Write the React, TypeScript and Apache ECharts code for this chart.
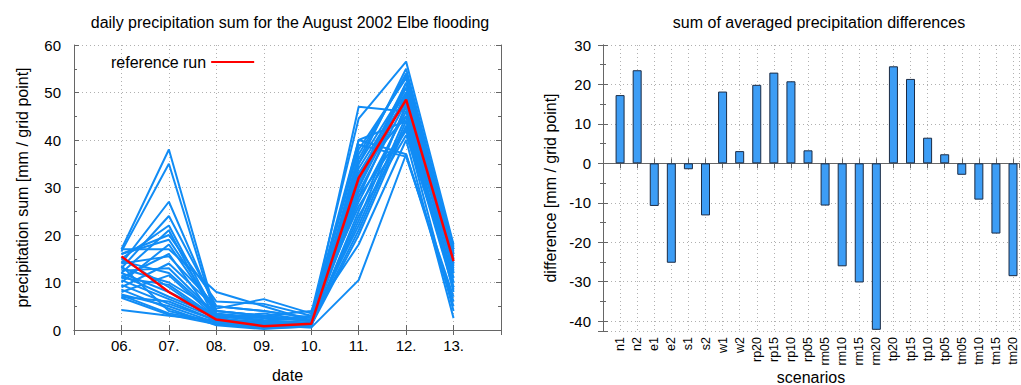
import React, { useEffect, useRef } from "react";
import * as echarts from "echarts";

const dayLabels = ["06.", "07.", "08.", "09.", "10.", "11.", "12.", "13."];

const referenceRun = [15.5, 8, 2.2, 0.8, 1.3, 32, 48.5, 14.5];

const members: number[][] = [
  [17, 38, 3, 2, 1.5, 30, 52, 16],
  [16.5, 35, 2.5, 1.5, 1, 28, 50, 12],
  [14, 27, 4, 3, 2, 35, 55, 17],
  [13, 24, 5, 4, 2.5, 38, 53, 14],
  [15, 22, 3, 2, 1.5, 33, 49, 10],
  [12, 21, 2, 1, 1, 25, 47, 8],
  [16, 20, 6, 5.5, 3, 40, 44, 15],
  [10, 18, 3.5, 2.5, 2, 22, 45, 11],
  [17, 17, 8, 5, 2, 47, 46, 13],
  [11, 16, 2, 1.5, 1, 20, 43, 9],
  [9, 14, 4.5, 6.5, 3.5, 44.5, 56.5, 18],
  [14.5, 12, 3, 2, 1.5, 31, 51, 17],
  [8, 11.5, 2.5, 3.5, 2, 39, 36.5, 7],
  [7, 6, 2, 1, 1, 40, 37, 5],
  [13, 10, 4, 3, 4, 26, 42, 4],
  [12, 8, 3, 2, 3, 18, 40, 2.5],
  [4.2, 3, 2, 1, 0.5, 10.5, 37, 6],
  [7.5, 5, 1.5, 0.5, 1, 36, 54, 16],
  [8.5, 4.5, 1, 0.2, 0.8, 34, 50, 14],
  [10.5, 6.5, 2.5, 1.2, 1.5, 29, 48, 12],
  [11.5, 7, 3, 2.5, 2, 27, 46, 15],
  [13.5, 4, 1.5, 0.5, 1, 24, 41, 11],
  [9.5, 5.5, 2, 1, 1.2, 21, 44, 9],
  [7.3, 3.5, 1.8, 0.8, 0.6, 37, 53.5, 13.5],
  [15, 9, 2.2, 1.7, 1.4, 32, 52, 17.5],
  [12.5, 13, 3.2, 2.8, 2.2, 30, 49.5, 16.5],
  [16, 19, 4, 3, 1.8, 35, 51, 15.5],
  [6.8, 3.2, 1.2, 0.4, 0.7, 33, 45, 10],
  [14, 15.5, 5, 4, 2.6, 28, 42.5, 8.5],
  [11, 9.5, 2.6, 1.3, 1.1, 23, 47.5, 12.5],
];

const scenarios = [
  "n1", "n2", "e1", "e2", "s1", "s2", "w1", "w2", "rp20", "rp15", "rp10", "rp05",
  "rm05", "rm10", "rm15", "rm20", "tp20", "tp15", "tp10", "tp05", "tm05", "tm10", "tm15", "tm20",
];

const differences = [
  17.3, 23.6, -10.8, -25.2, -1.5, -13.2, 18.2, 3.1, 19.9, 23.0, 20.8, 3.3,
  -10.7, -26.1, -30.2, -42.2, 24.6, 21.4, 6.5, 2.3, -2.9, -9.2, -17.8, -28.6,
];

const FONT = "Liberation Sans, Arial, sans-serif";
const BORDER = "#666";
const GRIDC = "#b0b0b0";

export default function App() {
  const ref = useRef<HTMLDivElement>(null);
  useEffect(() => {
    if (!ref.current) return;
    const chart = echarts.init(ref.current, null, { renderer: "svg" });

    const axisLine = { show: true, lineStyle: { color: BORDER, width: 1 } };
    const tickIn = { show: true, inside: true, length: 5, lineStyle: { color: BORDER } };
    const split = { show: true, lineStyle: { color: GRIDC, type: [1, 3] as any, width: 1 } };
    const minor = { show: true, splitNumber: 2, length: 3, lineStyle: { color: BORDER } };
    const nameStyle = { fontFamily: FONT, fontSize: 16, color: "#000" };

    const toPts = (arr: number[]) => arr.map((v, i) => [i + 6, v]);

    const memberSeries = members.map((m, k) => ({
      type: "line",
      name: "member" + k,
      xAxisIndex: 0,
      yAxisIndex: 0,
      data: toPts(m),
      symbol: "none",
      lineStyle: { color: "#118cf5", width: 2 },
      silent: true,
      z: 2,
    }));

    const option: any = {
      animation: false,
      textStyle: { fontFamily: FONT },
      title: [
        {
          text: "daily precipitation sum for the August 2002 Elbe flooding",
          left: 285,
          top: 9,
          textAlign: "center",
          textStyle: { fontFamily: FONT, fontSize: 16, fontWeight: "normal", color: "#000" },
        },
        {
          text: "sum of averaged precipitation differences",
          left: 814,
          top: 9,
          textAlign: "center",
          textStyle: { fontFamily: FONT, fontSize: 16, fontWeight: "normal", color: "#000" },
        },
      ],
      legend: {
        show: true,
        data: [{ name: "reference run", icon: "rect" }],
        left: 106,
        top: 49,
        align: "right",
        itemWidth: 43,
        itemHeight: 2,
        itemGap: 8,
        textStyle: { fontFamily: FONT, fontSize: 16, color: "#000" },
      },
      grid: [
        { left: 74, top: 45, width: 427, height: 285, outerBoundsMode: "none", containLabel: false },
        { left: 603, top: 45, width: 416, height: 286, outerBoundsMode: "none", containLabel: false },
      ],
      xAxis: [
        {
          type: "value", gridIndex: 0, min: 5, max: 14, interval: 1, position: "bottom",
          name: "date", nameLocation: "middle", nameGap: 37, nameMoveOverlap: false,
          nameTextStyle: nameStyle,
          axisLine, axisTick: tickIn,
          splitLine: split,
          axisLabel: {
            fontFamily: FONT, fontSize: 15, color: "#000", margin: 8,
            formatter: (v: number) => dayLabels[Math.round(v) - 6] ?? "",
          },
        },
        {
          type: "value", gridIndex: 0, min: 5, max: 14, interval: 1, position: "top",
          axisLine, axisTick: tickIn, splitLine: { show: false }, axisLabel: { show: false },
        },
        {
          type: "value", gridIndex: 1, min: 0, max: 24.35, interval: 1, position: "bottom",
          name: "scenarios", nameLocation: "middle", nameGap: 38, nameMoveOverlap: false,
          nameTextStyle: { fontFamily: FONT, fontSize: 16, color: "#000" },
          axisLine, axisTick: tickIn,
          splitLine: split,
          axisLabel: {
            fontFamily: FONT, fontSize: 12.5, color: "#000", rotate: 90, margin: 6,
            formatter: (v: number) => scenarios[Math.round(v) - 1] ?? "",
          },
        },
        {
          type: "value", gridIndex: 1, min: 0, max: 24.35, interval: 1, position: "top",
          axisLine, axisTick: tickIn, splitLine: { show: false }, axisLabel: { show: false },
        },
      ],
      yAxis: [
        {
          type: "value", gridIndex: 0, min: 0, max: 60, interval: 10, position: "left",
          name: "precipitation sum [mm / grid point]", nameLocation: "middle", nameGap: 44,
          nameMoveOverlap: false,
          nameTextStyle: nameStyle,
          axisLine, axisTick: tickIn, minorTick: minor, splitLine: split,
          axisLabel: { fontFamily: FONT, fontSize: 15, color: "#000", margin: 13 },
        },
        {
          type: "value", gridIndex: 0, min: 0, max: 60, interval: 10, position: "right",
          axisLine, axisTick: tickIn, minorTick: minor, splitLine: { show: false },
          axisLabel: { show: false },
        },
        {
          type: "value", gridIndex: 1, min: -42.5, max: 30, minInterval: 10, maxInterval: 10,
          splitNumber: 7, position: "left",
          name: "difference [mm / grid point]", nameLocation: "middle", nameGap: 45,
          nameMoveOverlap: false,
          nameTextStyle: nameStyle,
          axisLine, axisTick: tickIn, minorTick: minor, splitLine: split,
          axisLabel: {
            fontFamily: FONT, fontSize: 15, color: "#000", margin: 12,
            formatter: (v: number) => (Math.abs(v % 10) < 1e-6 ? String(v) : ""),
          },
        },
        {
          type: "value", gridIndex: 1, min: -42.5, max: 30, minInterval: 10, maxInterval: 10,
          splitNumber: 7, position: "right",
          axisLine, axisTick: tickIn, minorTick: minor, splitLine: { show: false },
          axisLabel: { show: false },
        },
      ],
      series: [
        ...memberSeries,
        {
          type: "line",
          name: "reference run",
          xAxisIndex: 0,
          yAxisIndex: 0,
          data: toPts(referenceRun),
          symbol: "none",
          itemStyle: { color: "#ff0000" },
          lineStyle: { color: "#ff0000", width: 2.5 },
          z: 5,
        },
        {
          type: "bar",
          name: "differences",
          xAxisIndex: 2,
          yAxisIndex: 2,
          data: differences.map((v, i) => [i + 1, v]),
          barWidth: 9,
          itemStyle: { color: "#3d9df5", borderColor: "#1b2b44", borderWidth: 1 },
          z: 3,
        },
      ],
    };
    chart.setOption(option);
    return () => chart.dispose();
  }, []);

  return <div ref={ref} style={{ width: 1021, height: 385, position: "absolute", left: 0, top: 0, background: "#fff" }} />;
}
